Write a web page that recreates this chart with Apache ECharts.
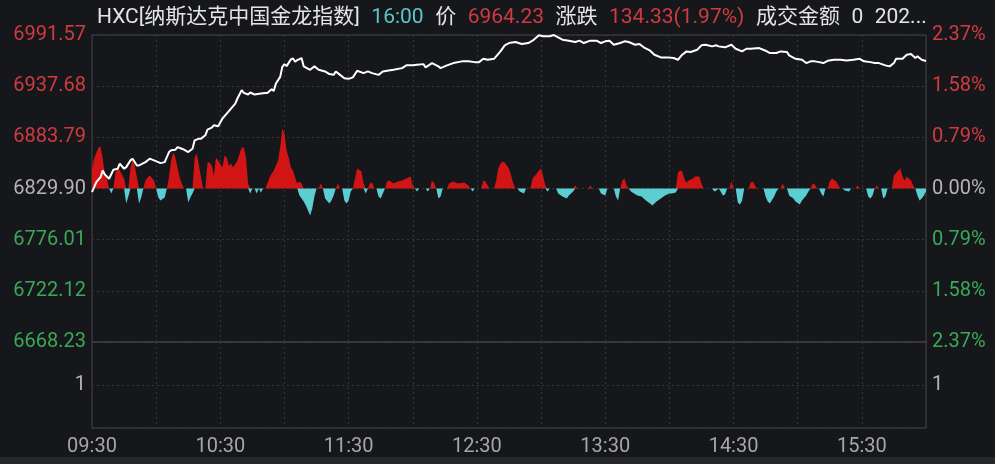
<!DOCTYPE html>
<html><head><meta charset="utf-8">
<script src="https://cdn.jsdelivr.net/npm/echarts@6/dist/echarts.min.js"></script>
<style>html,body{margin:0;padding:0;background:#16171b;}#c{width:995px;height:464px;}</style>
</head><body><div id="c"></div>
<script>
// ---- data ----
const indexName = 'HXC[纳斯达克中国金龙指数]';
const timeText = '16:00';
const amountText = '0';
const dateText = '202...';
const prevClose = 6829.90;
const priceStep = 53.89;
const leftLabels = ['6668.23','6722.12','6776.01','6829.90','6883.79','6937.68','6991.57'];
const rightLabels = ['2.37%','1.58%','0.79%','0.00%','0.79%','1.58%','2.37%'];
const timeLabels = ['09:30','10:30','11:30','12:30','13:30','14:30','15:30'];
const volumeLabel = '1';
// [minute since 09:30, price]
const priceLine = [[0,6826.0],[2,6836.6],[4,6841.8],[5,6848.9],[6,6844.7],[8,6840.2],[10,6849.7],[12,6850.7],[13,6856.0],[15,6850.7],[16,6852.4],[18,6859.5],[19,6861.3],[21,6854.2],[22,6854.2],[25,6857.7],[27,6861.3],[29,6859.5],[31,6857.7],[32,6856.6],[34,6857.7],[36,6868.3],[37,6870.1],[39,6870.8],[40,6873.5],[42,6871.8],[43,6870.8],[45,6868.3],[47,6871.8],[48,6880.6],[50,6882.4],[51,6882.4],[53,6885.9],[54,6891.9],[56,6894.0],[57,6896.5],[59,6895.4],[61,6903.6],[63,6908.8],[65,6914.1],[67,6919.4],[68,6924.7],[70,6933.5],[71,6930.6],[73,6928.9],[74,6931.0],[76,6928.9],[79,6930.0],[81,6930.6],[82,6930.6],[84,6934.5],[85,6932.7],[86,6940.5],[88,6947.5],[89,6958.1],[90,6960.9],[91,6958.8],[93,6965.9],[94,6966.9],[95,6963.4],[96,6965.2],[98,6967.3],[99,6958.5],[102,6954.9],[104,6958.5],[106,6954.9],[109,6953.2],[111,6950.4],[113,6949.6],[114,6953.2],[116,6949.6],[118,6946.1],[120,6945.4],[122,6946.9],[124,6953.9],[127,6951.4],[129,6953.2],[131,6951.4],[134,6949.6],[136,6953.2],[138,6953.9],[141,6954.9],[145,6956.7],[147,6959.6],[150,6959.6],[152,6960.2],[155,6960.9],[156,6957.4],[159,6962.0],[162,6958.5],[163,6956.7],[166,6959.6],[169,6962.0],[173,6963.8],[176,6963.8],[179,6963.0],[181,6963.0],[183,6966.5],[185,6965.5],[188,6966.5],[191,6974.3],[193,6980.7],[195,6983.1],[198,6984.2],[201,6982.1],[204,6983.1],[206,6985.6],[209,6991.3],[211,6990.2],[214,6990.2],[216,6991.5],[218,6989.1],[220,6986.6],[223,6985.6],[226,6984.2],[228,6985.6],[230,6983.1],[233,6985.6],[236,6985.6],[238,6983.1],[240,6984.9],[242,6985.6],[244,6981.3],[247,6983.1],[249,6984.9],[251,6984.2],[254,6981.3],[256,6982.1],[258,6978.6],[261,6975.0],[263,6970.8],[266,6968.0],[269,6968.0],[272,6967.3],[274,6965.5],[276,6970.8],[278,6974.3],[280,6973.6],[283,6976.0],[285,6980.7],[287,6981.3],[290,6979.6],[292,6980.7],[293,6979.6],[296,6978.6],[299,6981.3],[301,6977.1],[304,6974.3],[306,6977.1],[308,6977.1],[312,6977.8],[315,6975.0],[317,6972.6],[320,6972.6],[322,6974.3],[325,6973.6],[326,6970.1],[329,6966.5],[332,6965.5],[334,6962.0],[336,6963.8],[338,6963.8],[340,6963.0],[342,6962.0],[344,6964.4],[347,6965.5],[350,6965.5],[353,6964.8],[356,6965.5],[359,6966.5],[361,6963.8],[364,6963.0],[366,6962.0],[368,6962.0],[371,6959.6],[373,6958.5],[375,6962.0],[376,6966.5],[379,6966.5],[381,6970.8],[383,6971.5],[385,6967.3],[386,6969.1],[388,6965.5],[390,6964.23]];
// [minute, strength] positive bars
const upBars = [[0,20],[1,30],[3,41],[4,42],[5,30],[6,15],[7,10],[8,0],[10,0],[11,16],[12,20],[13,18],[15,10],[16,0],[17,0],[18,21],[19,28],[20,23],[21,11],[22,0],[24,0],[25,8],[26,11],[27,13],[29,8],[30,0],[35,0],[36,11],[37,28],[38,36],[39,31],[40,21],[41,11],[42,5],[43,0],[47,0],[48,31],[49,35],[50,23],[51,11],[52,0],[53,0],[54,26],[55,26],[56,23],[57,13],[58,31],[59,28],[61,21],[62,33],[63,31],[64,23],[65,25],[66,21],[68,28],[69,35],[70,41],[71,41],[72,31],[73,5],[74,0],[81,0],[82,5],[83,11],[84,15],[85,18],[87,28],[88,41],[89,60],[90,55],[91,38],[92,31],[93,21],[94,18],[95,11],[96,5],[97,7],[98,5],[99,0],[106,0],[107,5],[108,0],[114,0],[115,5],[116,0],[122,0],[123,10],[124,20],[126,17],[127,5],[128,0],[129,0],[130,5],[131,6],[132,0],[137,0],[138,7],[139,8],[141,5],[143,7],[145,8],[147,10],[149,12],[150,3],[151,0],[158,0],[159,8],[160,5],[161,0],[166,0],[167,5],[169,7],[171,5],[174,6],[176,3],[177,0],[182,0],[183,8],[184,7],[185,3],[186,0],[188,0],[189,8],[190,20],[191,25],[192,27],[193,26],[194,23],[195,20],[196,13],[197,5],[198,0],[205,0],[206,10],[208,15],[209,18],[210,20],[211,12],[212,3],[213,0],[225,0],[226,3],[227,0],[232,0],[233,3],[234,0],[247,0],[248,8],[249,10],[250,3],[251,0],[273,0],[274,16],[275,18],[276,17],[277,10],[278,6],[279,8],[281,10],[282,12],[284,12],[285,5],[286,0],[298,0],[299,7],[300,0],[307,0],[308,6],[309,7],[310,3],[311,0],[322,0],[323,5],[324,0],[336,0],[337,5],[338,4],[339,0],[344,0],[345,7],[346,10],[348,7],[349,3],[350,0],[357,0],[358,3],[359,0],[366,0],[367,3],[368,0],[374,0],[375,13],[377,18],[378,20],[379,12],[380,8],[381,12],[383,8],[384,3],[385,0]];
// [minute, strength] negative bars
const downBars = [[8,0],[9,-5],[10,0],[15,0],[16,-15],[17,-8],[18,0],[21,0],[22,-15],[23,-9],[24,0],[30,0],[31,-9],[32,-12],[34,-9],[35,0],[44,0],[45,-14],[46,-9],[47,-5],[48,0],[73,0],[74,-5],[75,0],[76,0],[77,-5],[78,0],[79,-4],[80,0],[96,0],[97,-7],[99,-13],[100,-17],[101,-22],[102,-27],[103,-20],[104,-8],[105,0],[108,0],[109,-10],[111,-15],[112,-12],[113,-7],[114,0],[117,0],[118,-12],[119,-15],[120,-12],[121,-3],[122,0],[127,0],[128,-5],[129,0],[133,0],[134,-8],[135,-10],[136,-5],[137,0],[151,0],[152,-3],[153,0],[156,0],[157,-3],[158,0],[161,0],[162,-10],[163,-8],[164,0],[177,0],[178,-3],[179,0],[199,0],[200,-3],[202,-5],[203,0],[212,0],[213,-3],[214,0],[217,0],[218,-5],[220,-8],[222,-10],[223,-7],[225,-3],[226,0],[237,0],[238,-5],[240,-7],[241,0],[244,0],[245,-8],[246,-12],[247,0],[251,0],[252,-3],[255,-7],[257,-8],[259,-12],[261,-15],[262,-17],[264,-13],[266,-10],[268,-7],[270,-5],[271,-5],[273,-4],[274,0],[290,0],[291,-3],[292,-2],[293,0],[294,-3],[295,-7],[296,-6],[297,0],[301,0],[302,-14],[303,-16],[304,-12],[305,0],[314,0],[315,-8],[316,-13],[317,-15],[319,-8],[320,-3],[321,0],[325,0],[326,-7],[328,-10],[329,-13],[331,-16],[332,-12],[334,-7],[335,-3],[336,0],[340,0],[341,-5],[342,-8],[343,0],[351,0],[352,-2],[354,-3],[355,0],[362,0],[363,-8],[364,-10],[365,-7],[366,0],[369,0],[370,-10],[371,-8],[372,0],[385,0],[386,-7],[387,-12],[388,-10],[389,-7],[390,-3]];

// ---- styling ----
const FONT = 'Roboto, "Noto Sans CJK SC", sans-serif';
const RED_T = '#cf3b40', GREEN_T = '#3aa858', GREY_T = '#b4b4b8', WHITE_T = '#e4e4e6', CYAN_T = '#5cc6c9';
const GRID_C = '#34353b', BORDER_C = '#44454b';
const lastPrice = priceLine[priceLine.length - 1][1];
const chg = lastPrice - prevClose;
const pct = chg / prevClose * 100;
function labelColor(idx) { return idx > 3 ? RED_T : (idx < 3 ? GREEN_T : GREY_T); }

const chart = echarts.init(document.getElementById('c'));
const dashed = { show: true, lineStyle: { color: GRID_C, type: [2, 3], width: 1 } };
const gap = '{g|}';
const hs = { fontSize: 21, fontFamily: FONT, fontWeight: 'normal' };
chart.setOption({
  backgroundColor: '#16171b',
  animation: false,
  title: {
    left: 92, top: 2,
    text: ['{w|' + indexName + '}', '{c|' + timeText + '}', '{w|价}', '{r|' + lastPrice.toFixed(2) + '}', '{w|涨跌}',
           '{r|' + chg.toFixed(2) + '(' + pct.toFixed(2) + '%)}', '{w|成交金额}', '{w|' + amountText + '}', '{w|' + dateText + '}'].join(gap),
    textStyle: {
      fontFamily: FONT, fontSize: 21, fontWeight: 'normal',
      rich: {
        w: Object.assign({ color: WHITE_T }, hs),
        c: Object.assign({ color: CYAN_T }, hs),
        r: Object.assign({ color: RED_T }, hs),
        g: { width: 11.5 }
      }
    }
  },
  grid: [
    { left: 92, right: 69, top: 35, height: 307, show: true, borderColor: BORDER_C, borderWidth: 1, backgroundColor: 'transparent' },
    { left: 92, right: 69, top: 342, height: 86, show: true, borderColor: BORDER_C, borderWidth: 1, backgroundColor: 'transparent' }
  ],
  xAxis: [
    { type: 'value', gridIndex: 0, min: 0, max: 390, interval: 30, axisLine: { show: false }, axisTick: { show: false }, axisLabel: { show: false }, splitLine: dashed },
    { type: 'value', gridIndex: 1, min: 0, max: 390, interval: 30, axisLine: { show: false }, axisTick: { show: false }, splitLine: dashed,
      axisLabel: { show: true, color: '#a6a6aa', fontFamily: FONT, fontSize: 20, margin: 9, showMaxLabel: false,
        formatter: v => (v % 60 === 0 && v < 390) ? timeLabels[v / 60] : '' } }
  ],
  yAxis: [
    { type: 'value', gridIndex: 0, position: 'left', min: -3, max: 3, interval: 1, axisLine: { show: false }, axisTick: { show: false }, splitLine: dashed,
      axisLabel: { fontFamily: FONT, fontSize: 20, margin: 6, formatter: v => leftLabels[Math.round(v) + 3], color: v => labelColor(Math.round(v) + 3) } },
    { type: 'value', gridIndex: 0, position: 'right', min: -3, max: 3, interval: 1, axisLine: { show: false }, axisTick: { show: false }, splitLine: { show: false },
      axisLabel: { fontFamily: FONT, fontSize: 20, margin: 6, formatter: v => rightLabels[Math.round(v) + 3], color: v => labelColor(Math.round(v) + 3) } },
    { type: 'value', gridIndex: 0, min: -153.5, max: 153.5, show: false },
    { type: 'value', gridIndex: 1, position: 'left', min: 0, max: 2, interval: 1, axisLine: { show: false }, axisTick: { show: false }, splitLine: dashed,
      axisLabel: { fontFamily: FONT, fontSize: 20, margin: 6, color: GREY_T, showMinLabel: false, showMaxLabel: false, formatter: v => v === 1 ? volumeLabel : '' } },
    { type: 'value', gridIndex: 1, position: 'right', min: 0, max: 2, interval: 1, axisLine: { show: false }, axisTick: { show: false }, splitLine: { show: false },
      axisLabel: { fontFamily: FONT, fontSize: 20, margin: 6, color: GREY_T, showMinLabel: false, showMaxLabel: false, formatter: v => v === 1 ? volumeLabel : '' } }
  ],
  series: [
    { type: 'line', xAxisIndex: 0, yAxisIndex: 2, data: upBars, symbol: 'none', lineStyle: { width: 0 }, areaStyle: { color: '#d11414', opacity: 1 }, z: 2 },
    { type: 'line', xAxisIndex: 0, yAxisIndex: 2, data: downBars, symbol: 'none', lineStyle: { width: 0 }, areaStyle: { color: '#5ccdd1', opacity: 1 }, z: 2 },
    { type: 'line', xAxisIndex: 0, yAxisIndex: 0, data: priceLine.map(p => [p[0], (p[1] - prevClose) / priceStep]),
      symbol: 'none', lineStyle: { color: '#ffffff', width: 2 }, z: 5 }
  ],
  graphic: [
    { type: 'rect', left: 0, top: 457, shape: { width: 995, height: 7 }, style: { fill: '#26272c' } }
  ]
});
</script></body></html>
